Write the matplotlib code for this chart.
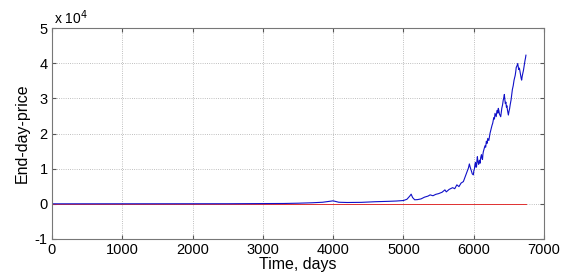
import matplotlib
matplotlib.use("Agg")
import matplotlib.pyplot as plt
from matplotlib.ticker import FuncFormatter

days = [0, 500, 1000, 1500, 2000, 2500, 3000, 3300, 3500, 3700, 3850, 3950, 4000, 4030, 4080,
        4200, 4400, 4600, 4700, 4800, 4900, 5000, 5050, 5090, 5110, 5130, 5160, 5200, 5250,
        5300, 5350, 5380, 5420, 5460, 5500, 5550, 5590, 5610, 5650, 5700, 5730, 5760, 5790,
        5820, 5853, 5880, 5910, 5925, 5938, 5950, 5960, 5980, 5995, 6003, 6010, 6018, 6025,
        6033, 6040, 6046, 6052, 6060, 6070, 6080, 6090, 6100, 6110, 6118, 6125, 6131, 6137,
        6148, 6160, 6170, 6180, 6190, 6200, 6215, 6225, 6232, 6242, 6250, 6260, 6270, 6278,
        6285, 6295, 6303, 6312, 6320, 6328, 6335, 6343, 6350, 6358, 6365, 6375, 6384, 6392,
        6400, 6410, 6420, 6428, 6436, 6443, 6450, 6458, 6465, 6472, 6480, 6486, 6493, 6502,
        6510, 6520, 6531, 6540, 6550, 6562, 6574, 6582, 6590, 6598, 6605, 6615, 6626, 6633,
        6640, 6650, 6659, 6665, 6670, 6676, 6682, 6690, 6700, 6708, 6715, 6722, 6730, 6737, 6743]
price = [5, 8, 12, 15, 20, 30, 60, 100, 180, 300, 450, 700, 850, 700, 450,
         380, 420, 600, 650, 720, 800, 940, 1300, 2200, 2750, 1800, 1150, 1200, 1400,
         1900, 2200, 2550, 2300, 2700, 2900, 3300, 3970, 3400, 4100, 4600, 4300, 5400, 4900,
         5900, 6330, 7800, 9500, 10200, 11350, 10400, 9800, 8500, 8230, 9600, 9900, 11200, 11800,
         10400, 10500, 12300, 13400, 12000, 11200, 12400, 11540, 13200, 14000, 12900, 12600, 14100, 14840,
         15600, 16500, 16100, 17800, 17200, 18600, 18000, 19300, 20050, 20800, 21500, 22300, 22900, 23800,
         24500, 24100, 25730, 25200, 24800, 26100, 26600, 25800, 27150, 26500, 25600, 25200, 24770, 25900,
         27200, 28100, 29500, 30200, 31110, 29600, 28500, 28900, 27500, 27900, 26700, 26100, 25250, 26300,
         27000, 28300, 29500, 31000, 32500, 33600, 35180, 35800, 36500, 37600, 38800, 39200, 39910, 39000,
         38200, 38600, 37540, 36800, 36200, 35600, 35180, 36300, 37200, 38000, 38960, 39800, 40800, 41500, 42270]

ref_days = [0, 6743]
ref_price = [0, 0]

x_ticks = [0, 1000, 2000, 3000, 4000, 5000, 6000, 7000]
y_ticks = [-10000, 0, 10000, 20000, 30000, 40000, 50000]

plt.rcParams['font.family'] = ['Liberation Sans', 'DejaVu Sans']

fig = plt.figure(figsize=(5.66, 2.77), dpi=100)
ax = fig.add_axes([52/566, 1-239/277, 492/566, 211/277])

ax.plot(ref_days, ref_price, color='#e03030', lw=0.7)
ax.plot(days, price, color='#1010c8', lw=0.8)

ax.set_xlim(0, 7000)
ax.set_ylim(-10000, 50000)
ax.set_xticks(x_ticks)
ax.set_yticks(y_ticks)
ax.yaxis.set_major_formatter(FuncFormatter(lambda v, p: f"{v/1e4:g}"))
ax.tick_params(direction='in', top=True, right=True, labelsize=10.5, length=3,
               color='#555555', pad=3)
ax.grid(True, linestyle=':', color='#aaaaaa', lw=0.6)
for s in ax.spines.values():
    s.set_color('#777777')
    s.set_linewidth(0.8)

ax.text(0.005, 1.005, "x 10$^4$", transform=ax.transAxes, fontsize=10, ha='left', va='bottom')
ax.set_xlabel("Time, days", fontsize=11.5, labelpad=0)
ax.set_ylabel("End-day-price", fontsize=11.5, labelpad=4)

fig.savefig("out.png", dpi=100)
